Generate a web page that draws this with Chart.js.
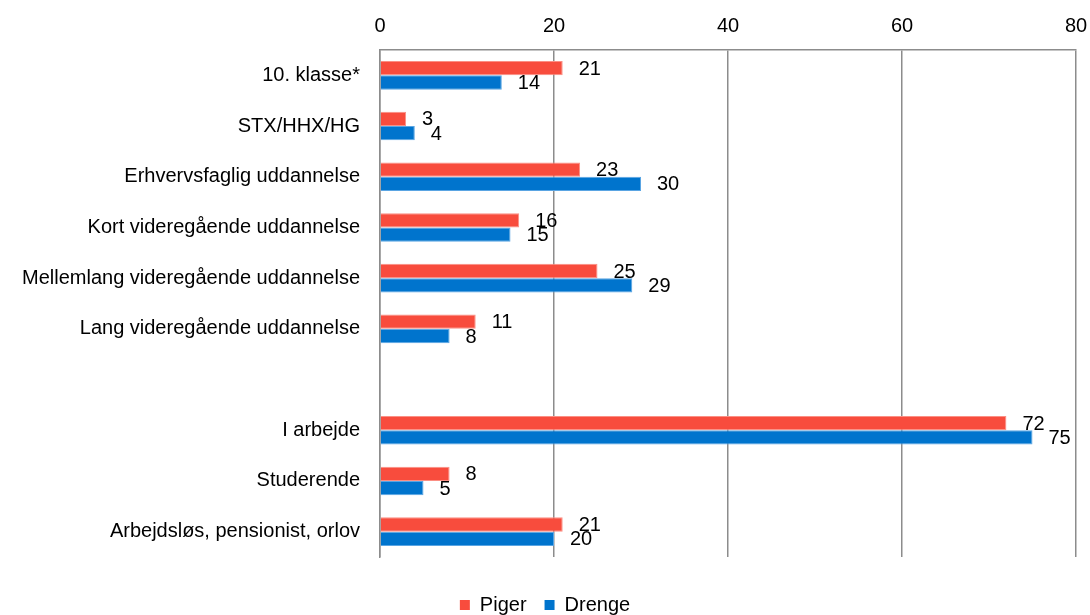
<!DOCTYPE html>
<html>
<head>
<meta charset="utf-8">
<script src="https://cdn.jsdelivr.net/npm/chart.js@4/dist/chart.umd.min.js"></script>
<style>
    html, body { margin: 0; padding: 0; background: #fff; }
    #wrap { width: 1090px; height: 615px; }
</style>
</head>
<body>
<div id="wrap"><canvas id="chart"></canvas></div>
<script>
// Kategorier (tom linje mellem uddannelse og beskæftigelse)
const categories = [
    '10. klasse*',
    'STX/HHX/HG',
    'Erhvervsfaglig uddannelse',
    'Kort videregående uddannelse',
    'Mellemlang videregående uddannelse',
    'Lang videregående uddannelse',
    '',
    'I arbejde',
    'Studerende',
    'Arbejdsløs, pensionist, orlov'
];
const piger = [21, 3, 23, 16, 25, 11, null, 72, 8, 21];
const drenge = [14, 4, 30, 15, 29, 8, null, 75, 5, 20];
const xTicks = [0, 20, 40, 60, 80];

const FONT = 'Liberation Sans, Arial, sans-serif';
const SIZE = 20;

// Værdier til højre for søjlerne
const valueLabels = {
    id: 'valueLabels',
    afterDatasetsDraw(chart) {
        const ctx = chart.ctx;
        ctx.save();
        ctx.font = SIZE + 'px ' + FONT;
        ctx.fillStyle = '#000';
        ctx.textAlign = 'left';
        ctx.textBaseline = 'middle';
        chart.data.datasets.forEach((ds, i) => {
            const meta = chart.getDatasetMeta(i);
            meta.data.forEach((bar, j) => {
                const v = ds.data[j];
                if (v === null || v === undefined) return;
                ctx.fillText(String(v), bar.x + 16, bar.y + 1);
            });
        });
        ctx.restore();
    }
};

new Chart(document.getElementById('chart'), {
    type: 'bar',
    data: {
        labels: categories,
        datasets: [{
            label: 'Piger',
            data: piger,
            backgroundColor: '#f84c3d',
            borderColor: '#fb8f84',
            borderWidth: 1,
            categoryPercentage: 0.565,
            barPercentage: 1
        }, {
            label: 'Drenge',
            data: drenge,
            backgroundColor: '#0074cd',
            borderColor: '#5aa5e3',
            borderWidth: 1,
            categoryPercentage: 0.565,
            barPercentage: 1
        }]
    },
    options: {
        indexAxis: 'y',
        responsive: true,
        maintainAspectRatio: false,
        animation: false,
        layout: {
            padding: { top: 0, right: 0, left: 0, bottom: 0 }
        },
        scales: {
            x: {
                position: 'top',
                min: 0,
                max: 80,
                afterBuildTicks: (scale) => {
                    scale.ticks = xTicks.map(v => ({ value: v }));
                },
                afterFit: (scale) => {
                    scale.height = 50;
                    scale.paddingRight = 14;
                },
                grid: { color: '#8c8c8c', lineWidth: 1.5, drawTicks: false },
                border: { display: true, color: '#8c8c8c', width: 1.5 },
                ticks: {
                    color: '#000',
                    padding: 12,
                    font: { family: FONT, size: SIZE }
                }
            },
            y: {
                afterFit: (scale) => { scale.width = 380; },
                grid: { display: false, drawTicks: false },
                border: { display: true, color: '#8c8c8c', width: 1.5 },
                ticks: {
                    color: '#000',
                    padding: 20,
                    font: { family: FONT, size: SIZE }
                }
            }
        },
        plugins: {
            legend: {
                position: 'bottom',
                maxHeight: 58,
                title: { display: true, text: '', font: { size: 10 }, padding: { top: 8, bottom: 0 } },
                labels: {
                    boxWidth: 10,
                    boxHeight: 10,
                    padding: 18,
                    color: '#000',
                    font: { family: FONT, size: SIZE },
                    generateLabels: (chart) => chart.data.datasets.map((ds, i) => ({
                        text: ds.label,
                        fillStyle: ds.backgroundColor,
                        strokeStyle: ds.backgroundColor,
                        fontColor: '#000',
                        lineWidth: 0,
                        datasetIndex: i
                    }))
                }
            },
            tooltip: { enabled: false }
        }
    },
    plugins: [valueLabels]
});
</script>
</body>
</html>
